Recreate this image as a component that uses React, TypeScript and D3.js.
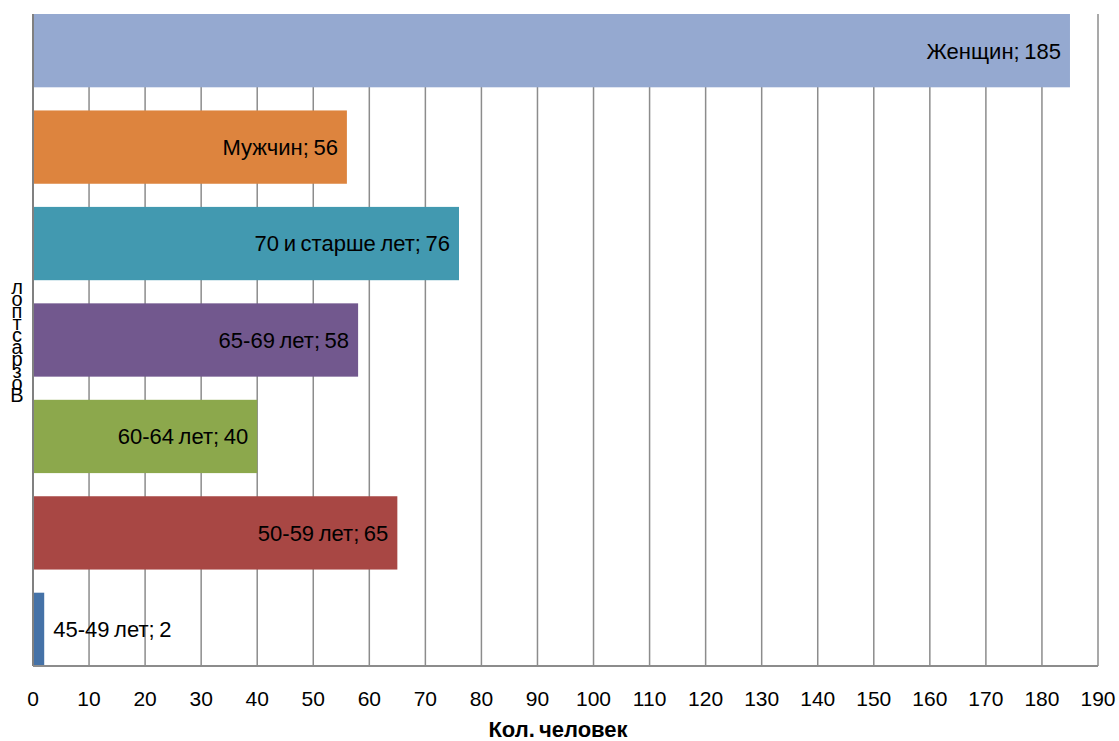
import React, { useEffect, useRef } from "react";
import * as d3 from "d3";

const categories = ["Женщин", "Мужчин", "70 и старше лет", "65-69 лет", "60-64 лет", "50-59 лет", "45-49 лет"];
const values = [185, 56, 76, 58, 40, 65, 2];
const colors = ["#95a9d0", "#dd843e", "#4299b0", "#72588e", "#8ca84c", "#a84744", "#4572a7"];
const xTicks = d3.range(0, 200, 10);
const yTitle = "Возрастпол";
const xTitle = "Кол. человек";

const App: React.FC = () => {
  const svgRef = useRef<SVGSVGElement>(null);

  useEffect(() => {
    if (!svgRef.current) return;
    const svg = d3.select(svgRef.current);
    svg.selectAll("*").remove();

    const width = 1119;
    const height = 741;
    const margin = { top: 14, right: 21, bottom: 75, left: 33 };
    const innerW = width - margin.left - margin.right;
    const innerH = height - margin.top - margin.bottom;
    const font = "'Liberation Sans', Arial, sans-serif";

    const x = d3.scaleLinear().domain([0, 190]).range([0, innerW]);
    const y = d3.scaleBand<string>().domain(categories).range([0, innerH]).paddingInner(0.24).paddingOuter(0);

    const g = svg.append("g").attr("transform", `translate(${margin.left},${margin.top})`);

    // vertical gridlines
    g.selectAll("line.grid")
      .data(xTicks.slice(1))
      .join("line")
      .attr("class", "grid")
      .attr("x1", (d) => x(d))
      .attr("x2", (d) => x(d))
      .attr("y1", 0)
      .attr("y2", innerH)
      .attr("stroke", "#8c8c8c")
      .attr("stroke-width", 1.5);

    // bars
    g.selectAll("rect.bar")
      .data(values)
      .join("rect")
      .attr("class", "bar")
      .attr("x", 0)
      .attr("y", (_, i) => y(categories[i]) as number)
      .attr("width", (d) => x(d))
      .attr("height", y.bandwidth())
      .attr("fill", (_, i) => colors[i]);

    // axes lines
    g.append("line")
      .attr("x1", 0).attr("x2", 0).attr("y1", 0).attr("y2", innerH)
      .attr("stroke", "#808080").attr("stroke-width", 2);
    g.append("line")
      .attr("x1", 0).attr("x2", innerW).attr("y1", innerH).attr("y2", innerH)
      .attr("stroke", "#8c8c8c").attr("stroke-width", 2);

    // data labels
    g.selectAll("text.lbl")
      .data(values)
      .join("text")
      .attr("class", "lbl")
      .attr("x", (d) => (x(d) > 150 ? x(d) - 9 : x(d) + 9))
      .attr("y", (_, i) => (y(categories[i]) as number) + y.bandwidth() / 2)
      .attr("dy", "0.36em")
      .attr("text-anchor", (d) => (x(d) > 150 ? "end" : "start"))
      .attr("font-family", font)
      .attr("font-size", 22)
      .attr("word-spacing", -1.5)
      .attr("fill", "#000")
      .text((d, i) => `${categories[i]}; ${d}`);

    // x tick labels
    g.selectAll("text.tick")
      .data(xTicks)
      .join("text")
      .attr("class", "tick")
      .attr("x", (d) => x(d))
      .attr("y", innerH + 40)
      .attr("text-anchor", "middle")
      .attr("font-family", font)
      .attr("font-size", 21)
      .attr("fill", "#000")
      .text((d) => d);

    // x title
    svg.append("text")
      .attr("x", 558)
      .attr("y", 737)
      .attr("text-anchor", "middle")
      .attr("font-family", font)
      .attr("font-size", 22)
      .attr("font-weight", "bold")
      .attr("word-spacing", -2)
      .text(xTitle);

    // y title, characters stacked bottom to top
    const chars = Array.from(yTitle);
    svg.append("g")
      .selectAll("text")
      .data(chars)
      .join("text")
      .attr("x", 17)
      .attr("y", (_, i) => 402 - i * 12)
      .attr("text-anchor", "middle")
      .attr("font-family", font)
      .attr("font-size", 20)
      .text((d) => d);
  }, []);

  return (
    <svg
      ref={svgRef}
      width={1119}
      height={741}
      style={{ position: "absolute", left: 0, top: 0, background: "#fff" }}
    />
  );
};

export default App;
